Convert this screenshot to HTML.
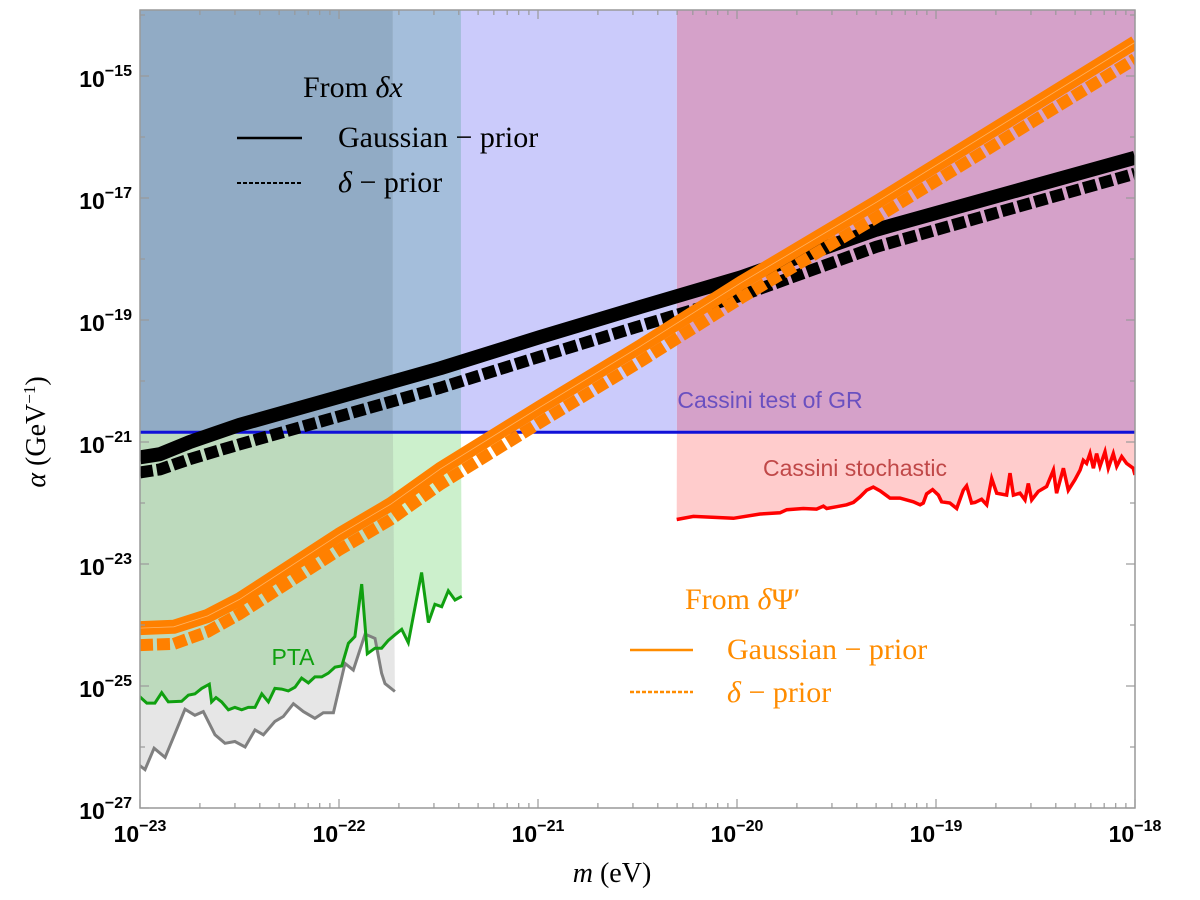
<!DOCTYPE html>
<html><head><meta charset="utf-8"><style>
body{margin:0;background:#fff}
svg{display:block}
.tk{font-family:"Liberation Sans",sans-serif;font-weight:bold;font-size:23px}
.lg{font-family:"Liberation Serif",serif;font-size:30px}
.lb{font-family:"Liberation Sans",sans-serif;font-size:23px}
</style></head><body>
<svg id="chart" width="1200" height="900" xmlns="http://www.w3.org/2000/svg"></svg>
<script>
const blackM=[-23,-22.9,-22.75,-22.5,-22,-21.49,-20.99,-20.49,-19.98,-19.3,-18];
const blackSolidA=[-21.25,-21.2,-21.0,-20.72,-20.26,-19.79,-19.28,-18.79,-18.3,-17.52,-16.34];
const blackDashA=[-21.5,-21.45,-21.28,-21.04,-20.58,-20.11,-19.6,-19.1,-18.6,-17.8,-16.6];
const orangeM=[-23,-22.83,-22.66,-22.5,-22,-21.74,-21.49,-20.99,-20.49,-19.98,-19.3,-18];
const orangeSolidA=[-24.05,-24.03,-23.85,-23.58,-22.52,-22.02,-21.44,-20.43,-19.44,-18.39,-17.07,-14.45];
const orangeDashA=[-24.33,-24.31,-24.11,-23.82,-22.77,-22.27,-21.69,-20.68,-19.69,-18.64,-17.32,-14.72];
const cassiniGR=-20.84;
const ptaM=[-23.003,-22.966,-22.925,-22.891,-22.858,-22.791,-22.757,-22.724,-22.69,-22.652,-22.64,-22.618,-22.59,-22.556,-22.523,-22.489,-22.456,-22.422,-22.388,-22.355,-22.322,-22.288,-22.255,-22.221,-22.188,-22.154,-22.121,-22.087,-22.054,-22.02,-21.986,-21.953,-21.92,-21.886,-21.858,-21.819,-21.786,-21.752,-21.719,-21.685,-21.652,-21.585,-21.551,-21.518,-21.484,-21.451,-21.417,-21.383];
const ptaA=[-25.17,-25.28,-25.28,-25.11,-25.26,-25.25,-25.15,-25.13,-25.04,-24.97,-25.26,-25.19,-25.26,-25.39,-25.35,-25.39,-25.35,-25.35,-25.13,-25.26,-25.04,-25.05,-25.08,-25.02,-24.87,-24.95,-24.85,-24.85,-24.79,-24.69,-24.67,-24.3,-24.19,-23.33,-24.47,-24.38,-24.38,-24.25,-24.16,-24.07,-24.29,-23.14,-23.96,-23.66,-23.7,-23.44,-23.59,-23.53];
const grayM=[-23.003,-22.975,-22.929,-22.874,-22.824,-22.774,-22.724,-22.682,-22.623,-22.573,-22.523,-22.472,-22.422,-22.38,-22.322,-22.28,-22.229,-22.179,-22.121,-22.079,-22.028,-21.97,-21.928,-21.869,-21.819,-21.786,-21.769,-21.719];
const grayA=[-26.3,-26.37,-26.02,-26.17,-25.78,-25.38,-25.48,-25.42,-25.8,-25.94,-25.91,-26,-25.72,-25.8,-25.58,-25.5,-25.29,-25.42,-25.53,-25.44,-25.44,-24.63,-24.74,-24.15,-24.22,-24.79,-24.96,-25.09];
const redM=[-20.303,-20.219,-20.018,-19.884,-19.784,-19.75,-19.667,-19.6,-19.566,-19.549,-19.499,-19.449,-19.415,-19.382,-19.348,-19.315,-19.281,-19.231,-19.181,-19.114,-19.08,-19.064,-19.047,-19.017,-18.988,-18.972,-18.93,-18.896,-18.863,-18.846,-18.821,-18.804,-18.771,-18.745,-18.72,-18.695,-18.645,-18.628,-18.611,-18.578,-18.553,-18.536,-18.519,-18.486,-18.444,-18.41,-18.394,-18.36,-18.335,-18.302,-18.276,-18.26,-18.243,-18.226,-18.209,-18.193,-18.176,-18.151,-18.134,-18.109,-18.092,-18.067,-18.042,-18.009,-18];
const redA=[-22.27,-22.22,-22.25,-22.18,-22.16,-22.11,-22.09,-22.1,-22.05,-22.09,-22.06,-22.03,-21.99,-21.9,-21.79,-21.74,-21.8,-21.92,-21.92,-21.98,-22.03,-22,-21.85,-21.78,-21.87,-21.98,-22,-22.09,-21.79,-21.72,-22,-21.99,-21.94,-22.03,-21.6,-21.84,-21.87,-21.51,-21.87,-21.84,-21.95,-21.68,-21.95,-21.81,-21.73,-21.46,-21.84,-21.43,-21.79,-21.62,-21.46,-21.3,-21.35,-21.19,-21.43,-21.19,-21.4,-21.16,-21.43,-21.19,-21.4,-21.24,-21.35,-21.43,-21.54];
const ptaEdgeM=-21.387, grayEdgeM=-21.729, pinkStartM=-20.302;
const xTickExp=[-23,-22,-21,-20,-19,-18];
const yTickExp=[-15,-17,-19,-21,-23,-25,-27];
const yMinorExp=[-14,-16,-18,-20,-22,-24,-26];

const L=140,R=1135,T=10,B=808;
const X=m=>L+(m+23)*199;
const Y=a=>76+(-15-a)*61;
const NS="http://www.w3.org/2000/svg";
const svg=document.getElementById('chart');
function el(t,at,p){const e=document.createElementNS(NS,t);for(const k in at)e.setAttribute(k,at[k]);(p||svg).appendChild(e);return e;}
function pts(ms,as){return ms.map((m,i)=>X(m).toFixed(1)+','+Y(as[i]).toFixed(1)).join(' ');}

const defs=el('defs',{});const cp=el('clipPath',{id:'pc'},defs);el('rect',{x:L,y:T,width:R-L,height:B-T},cp);
const g=el('g',{'clip-path':'url(#pc)'});
const yl=Y(cassiniGR);

let e;
e=el('rect',{x:L,y:T,width:X(grayEdgeM)-L,height:yl-T,fill:'#91abc5'},g);

e=el('rect',{x:X(grayEdgeM),y:T,width:X(ptaEdgeM)-X(grayEdgeM),height:yl-T,fill:'#a4bedb'},g);

e=el('rect',{x:X(ptaEdgeM),y:T,width:X(pinkStartM)-X(ptaEdgeM),height:yl-T,fill:'#cbcbfb'},g);

e=el('rect',{x:X(pinkStartM),y:T,width:R-X(pinkStartM),height:yl-T,fill:'#d5a1c9'},g);


e=el('polygon',{points:X(-23.1)+','+yl+' '+pts(ptaM,ptaA)+' '+X(ptaEdgeM)+','+yl,fill:'#ccf0cc'},g);

e=el('polygon',{points:X(-23.1)+','+yl+' '+X(-23.1)+','+Y(grayA[0])+' '+pts(grayM,grayA)+' '+X(grayEdgeM)+','+yl,fill:'rgba(128,128,128,0.2)'},g);

e=el('polygon',{points:X(pinkStartM)+','+yl+' '+pts(redM,redA)+' '+X(-17.9)+','+Y(-21.54)+' '+X(-17.9)+','+yl,fill:'#ffcccc'},g);


e=el('polyline',{points:pts(grayM,grayA),fill:'none',stroke:'#808080','stroke-width':3},g);

e=el('polyline',{points:pts(ptaM,ptaA),fill:'none',stroke:'#10a010','stroke-width':3},g);

e=el('polyline',{points:pts(redM,redA),fill:'none',stroke:'#ff0000','stroke-width':3.5},g);

e=el('line',{x1:L,x2:R,y1:yl,y2:yl,stroke:'#1010d8','stroke-width':3},g);


e=el('polyline',{points:pts(blackM,blackSolidA),fill:'none',stroke:'#000','stroke-width':14,'stroke-linejoin':'round'},g);

e=el('polyline',{points:pts(blackM,blackDashA),fill:'none',stroke:'#000','stroke-width':12,'stroke-dasharray':'13 4','stroke-linejoin':'round'},g);

e=el('polyline',{points:pts(orangeM,orangeSolidA),fill:'none',stroke:'#ff8000','stroke-width':14,'stroke-linejoin':'round'},g);

e=el('polyline',{points:pts(orangeM,orangeSolidA),fill:'none',stroke:'rgba(255,210,160,0.6)','stroke-width':0.8},g);

e=el('polyline',{points:pts(orangeM,orangeDashA),fill:'none',stroke:'#ff8000','stroke-width':12,'stroke-dasharray':'13 4','stroke-linejoin':'round'},g);


e=el('rect',{x:L,y:T,width:R-L,height:B-T,fill:'none',stroke:'#999','stroke-width':1.5});

xTickExp.forEach(p=>{
  for(let k=1;k<10;k++){const m=p+Math.log10(k);if(m>-18.001&&k>1)break;const x=X(m);const len=k==1?9:5;
    el('line',{x1:x,x2:x,y1:B,y2:B-len,stroke:'#999','stroke-width':1.2});el('line',{x1:x,x2:x,y1:T,y2:T+len,stroke:'#999','stroke-width':1.2});}
  const t=el('text',{x:X(p),y:842,'text-anchor':'middle',class:'tk'});
  
  t.innerHTML='10<tspan dy="-11" font-size="16">−'+(-p)+'</tspan>';
});
yTickExp.forEach(p=>{const y=Y(p);
  el('line',{x1:L,x2:L+9,y1:y,y2:y,stroke:'#999','stroke-width':1.2});el('line',{x1:R,x2:R-9,y1:y,y2:y,stroke:'#999','stroke-width':1.2});
  const t=el('text',{x:132,y:y+11,'text-anchor':'end',class:'tk'});
  
  t.innerHTML='10<tspan dy="-11" font-size="16">−'+(-p)+'</tspan>';
});
yMinorExp.forEach(p=>{const y=Y(p);
  el('line',{x1:L,x2:L+5,y1:y,y2:y,stroke:'#999','stroke-width':1.2});el('line',{x1:R,x2:R-5,y1:y,y2:y,stroke:'#999','stroke-width':1.2});});

e=el('text',{x:612,y:882,'text-anchor':'middle',class:'lg',style:'font-size:28px'});

e.innerHTML='<tspan font-style="italic">m</tspan> (eV)';
e=el('text',{x:0,y:0,'text-anchor':'middle',class:'lg',style:'font-size:28px',transform:'translate(45,432) rotate(-90)'});

e.innerHTML='<tspan font-style="italic">α</tspan> (GeV<tspan dy="-10" font-size="17">−1</tspan><tspan dy="10">)</tspan>';

function txt(x,y,s,fill,name,cls,extra){const t=el('text',Object.assign({x:x,y:y,fill:fill,class:cls||'lg'},extra||{}));t.innerHTML=s;return t;}
txt(303,97,'From  <tspan font-style="italic">δx</tspan>','#000','legend-title-dx');
el('line',{x1:237,x2:302,y1:138,y2:138,stroke:'#000','stroke-width':2.5});
txt(338,147,'Gaussian − prior','#000','legend-entry-dx-gaussian');
el('line',{x1:237,x2:302,y1:183,y2:183,stroke:'#000','stroke-width':2,'stroke-dasharray':'4 2'});
txt(338,192,'<tspan font-style="italic">δ</tspan> − prior','#000','legend-entry-dx-delta');
txt(685,609,'From  <tspan font-style="italic">δ</tspan>Ψ′','#ff8c00','legend-title-dpsi');
el('line',{x1:630,x2:693,y1:650,y2:650,stroke:'#ff8c00','stroke-width':2.5});
txt(727,659,'Gaussian − prior','#ff8c00','legend-entry-dpsi-gaussian');
el('line',{x1:630,x2:693,y1:692,y2:692,stroke:'#ff8c00','stroke-width':2.5,'stroke-dasharray':'4 2'});
txt(727,702,'<tspan font-style="italic">δ</tspan> − prior','#ff8c00','legend-entry-dpsi-delta');
txt(770,408,'Cassini test of GR','#6a50c0','cassini-gr-label','lb',{'text-anchor':'middle'});
txt(855,476,'Cassini stochastic','#c04848','cassini-stochastic-label','lb',{'text-anchor':'middle'});
txt(293,665,'PTA','#10a010','pta-label','lb',{'text-anchor':'middle'});
</script>
</body></html>
